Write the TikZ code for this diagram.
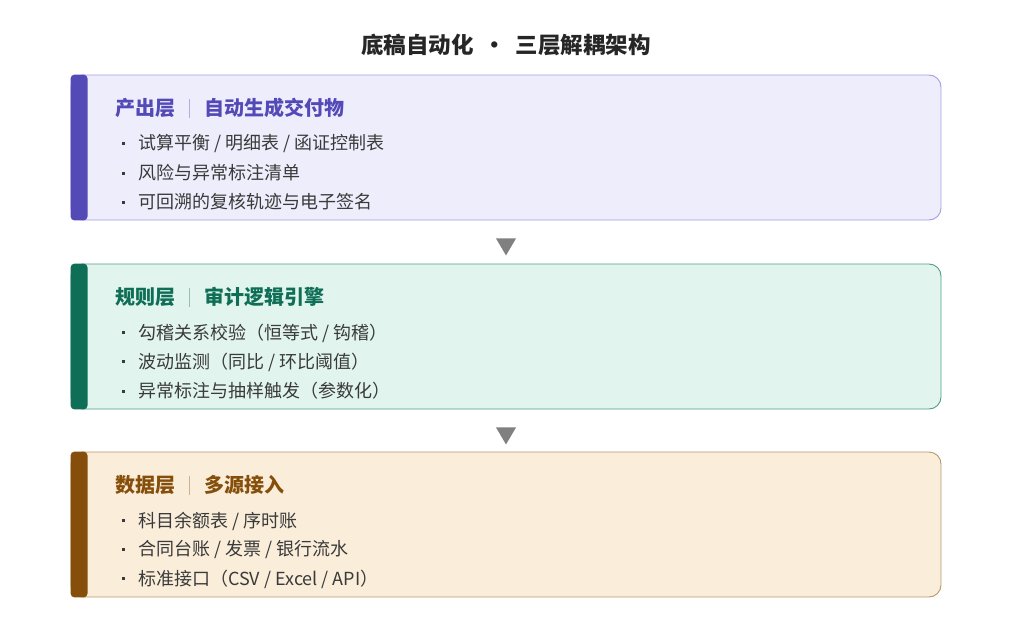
\documentclass[tikz,border=0pt]{standalone}
\usepackage{fontspec}
\setmainfont{Noto Sans CJK SC}
\usetikzlibrary{positioning}
\definecolor{purpbar}{HTML}{534AB7}
\definecolor{purpfill}{HTML}{EEEDFC}
\definecolor{purpline}{HTML}{A39DE3}
\definecolor{tealbar}{HTML}{0F6E56}
\definecolor{tealfill}{HTML}{E1F5EE}
\definecolor{tealline}{HTML}{4E9E84}
\definecolor{ambbar}{HTML}{854F0B}
\definecolor{ambfill}{HTML}{FAEEDA}
\definecolor{ambline}{HTML}{B8976A}
\definecolor{bodytxt}{HTML}{3A3A3A}
\definecolor{arrowgray}{HTML}{808080}
\tikzset{
  layerbox/.style={draw=#1line, fill=#1fill, line width=0.9pt, rounded corners=12pt,
    minimum width=870pt, minimum height=145pt, inner sep=0pt},
  layerbar/.style={fill=#1bar, rounded corners=4pt},
  headtxt/.style={anchor=west, inner sep=0pt, text=#1bar, font=\fontsize{20}{23}\selectfont\bfseries},
  itemtxt/.style={anchor=west, inner sep=0pt, text=bodytxt, font=\fontsize{18}{21}\selectfont},
  downtip/.style={fill=arrowgray}
}
\newcommand{\sepbar}[1]{\hspace{14pt}\textcolor{#1bar!45}{\rule[-2pt]{0.8pt}{19pt}}\hspace{14pt}}
\newcommand{\itemdot}{\makebox[19pt][l]{\hspace{3pt}\rule[5pt]{3.2pt}{3.2pt}}}
\begin{document}
\begin{tikzpicture}[x=1pt,y=-1pt]
\useasboundingbox (0,0) rectangle (1010,632);

\node[inner sep=0pt, text=black!85, font=\fontsize{22.5}{26}\selectfont\bfseries] (title) at (506,45)
  {底稿自动化\hspace{10pt}·\hspace{10pt}三层解耦架构};

% output layer
\node[layerbox=purp] (out) at (506,147.5) {};
\fill[layerbar=purp] (out.north west) rectangle ([xshift=17pt]out.south west);
\node[headtxt=purp] (outhead) at (115,108) {产出层\sepbar{purp}自动生成交付物};
\node[itemtxt] (outa) at (119,144) {\itemdot 试算平衡 / 明细表 / 函证控制表};
\node[itemtxt] (outb) at (119,173) {\itemdot 风险与异常标注清单};
\node[itemtxt] (outc) at (119,202) {\itemdot 可回溯的复核轨迹与电子签名};

% rule layer
\node[layerbox=teal] (rule) at (506,336.5) {};
\fill[layerbar=teal] (rule.north west) rectangle ([xshift=17pt]rule.south west);
\node[headtxt=teal] (rulehead) at (115,297) {规则层\sepbar{teal}审计逻辑引擎};
\node[itemtxt] (rulea) at (119,333) {\itemdot 勾稽关系校验（恒等式 / 钩稽）};
\node[itemtxt] (ruleb) at (119,362) {\itemdot 波动监测（同比 / 环比阈值）};
\node[itemtxt] (rulec) at (119,391) {\itemdot 异常标注与抽样触发（参数化）};

% data layer
\node[layerbox=amb] (data) at (506,524.5) {};
\fill[layerbar=amb] (data.north west) rectangle ([xshift=17pt]data.south west);
\node[headtxt=amb] (datahead) at (115,485) {数据层\sepbar{amb}多源接入};
\node[itemtxt] (dataa) at (119,521) {\itemdot 科目余额表 / 序时账};
\node[itemtxt] (datab) at (119,550) {\itemdot 合同台账 / 发票 / 银行流水};
\node[itemtxt] (datac) at (119,579) {\itemdot 标准接口（CSV / Excel / API）};

% arrows between layers
\fill[downtip] ([xshift=-10pt,yshift=-18pt]out.south) -- ([xshift=10pt,yshift=-18pt]out.south)
  -- ([yshift=-35pt]out.south) -- cycle;
\fill[downtip] ([xshift=-10pt,yshift=-18pt]rule.south) -- ([xshift=10pt,yshift=-18pt]rule.south)
  -- ([yshift=-35pt]rule.south) -- cycle;
\end{tikzpicture}
\end{document}
